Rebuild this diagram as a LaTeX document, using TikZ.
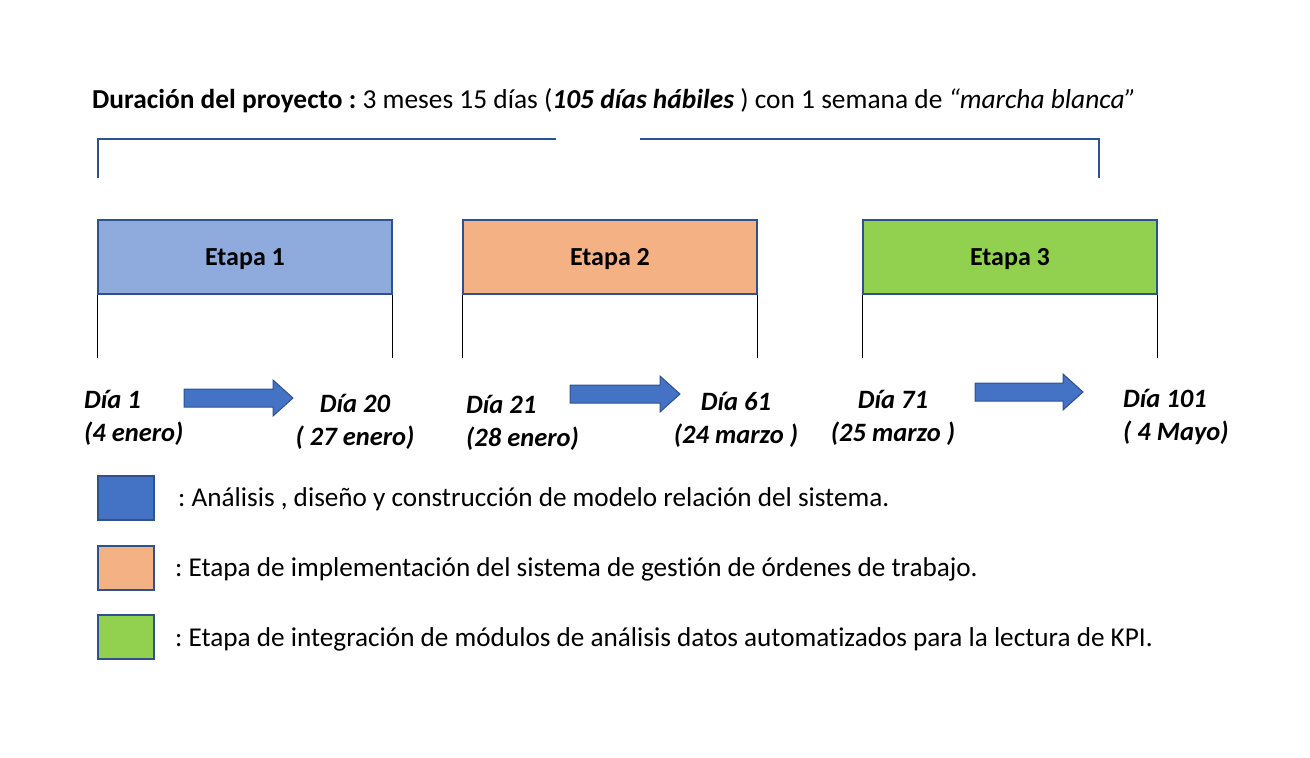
\documentclass[tikz,border=0pt]{standalone}
\usepackage{fontspec}
\setmainfont{Carlito}[Ligatures={NoCommon}]
\frenchspacing
\begin{document}
\begin{tikzpicture}[x=1pt,y=-1pt,
  brd/.style={draw=bracketblue,line width=2pt},
  etapa/.style={draw=bracketblue,line width=1.6pt,minimum width=294pt,minimum height=74pt,inner sep=0pt,
    text depth=0pt,font=\fontsize{26}{30}\selectfont\bfseries},
  tick/.style={draw=black,line width=0.8pt},
  datelbl/.style={font=\fontsize{26.5}{33}\selectfont\bfseries\itshape,inner sep=0pt},
  legsq/.style={draw=bracketblue,line width=1.6pt,minimum width=56pt,minimum height=44pt,inner sep=0pt},
  legtxt/.style={font=\fontsize{27.2}{30}\selectfont,anchor=base west,inner sep=0pt},
  barrow/.style={fill=arrowblue,draw=bracketblue,line width=1pt}]
\definecolor{bracketblue}{HTML}{2F528F}
\definecolor{arrowblue}{HTML}{4472C4}
\definecolor{e1}{HTML}{8FAADC}
\definecolor{e2}{HTML}{F4B183}
\definecolor{e3}{HTML}{92D050}
\useasboundingbox (0,0) rectangle (1310,758);
% title
\node[anchor=base west,inner sep=0pt,font=\fontsize{27.4}{30}\selectfont] (title) at (92,108)
  {\textbf{Duración del proyecto :} 3 meses 15 días (\textbf{\textit{105 días hábiles}} ) con 1 semana de \textit{“marcha blanca”}};
% bracket
\coordinate (bl) at (98,178); \coordinate (bla) at (98,139); \coordinate (blb) at (556,139);
\coordinate (bra) at (640,139); \coordinate (brb) at (1099,139); \coordinate (br) at (1099,178);
\draw[brd] (bl) -- (bla) -- (blb);
\draw[brd] (bra) -- (brb) -- (br);
% stage boxes
\node[etapa,fill=e1] (s1) at (245,257) {Etapa 1};
\node[etapa,fill=e2] (s2) at (610,257) {Etapa 2};
\node[etapa,fill=e3] (s3) at (1010,257) {Etapa 3};
\foreach \n in {s1,s2,s3}{
  \draw[tick] (\n.south west) -- ++(0,63);
  \draw[tick] (\n.south east) -- ++(0,63);
}
% dates (base anchor = baseline of the last line)
\node[datelbl,anchor=base west,align=left] (d1) at (84,441) {Día 1\\(4 enero)};
\node[datelbl,anchor=base,align=center] (d20) at (355,445) {Día 20\\( 27 enero)};
\node[datelbl,anchor=base west,align=left] (d21) at (466,446) {Día 21\\(28 enero)};
\node[datelbl,anchor=base,align=center] (d61) at (736,443) {Día 61\\(24 marzo )};
\node[datelbl,anchor=base,align=center] (d71) at (893,441) {Día 71\\(25 marzo )};
\node[datelbl,anchor=base west,align=left] (d101) at (1123,440) {Día 101\\( 4 Mayo)};
% block arrows
\newcommand{\blockarrow}[3]{%
  \draw[barrow] (#1,#3-9) -- (#2-20,#3-9) -- (#2-20,#3-18) -- (#2,#3) -- (#2-20,#3+18) -- (#2-20,#3+9) -- (#1,#3+9) -- cycle;}
\blockarrow{184}{293}{398}
\blockarrow{570}{680}{394}
\blockarrow{975}{1083}{392}
% legend
\node[legsq,fill=arrowblue] (l1) at (126,498) {};
\node[legsq,fill=e2] (l2) at (126,568) {};
\node[legsq,fill=e3] (l3) at (126,637) {};
\node[legtxt] (t1) at (178,506) {: Análisis , diseño y construcción de modelo relación del sistema.};
\node[legtxt] (t2) at (175,576) {: Etapa de implementación del sistema de gestión de órdenes de trabajo.};
\node[legtxt] (t3) at (175,646) {: Etapa de integración de módulos de análisis datos automatizados para la lectura de KPI.};
\end{tikzpicture}
\end{document}
